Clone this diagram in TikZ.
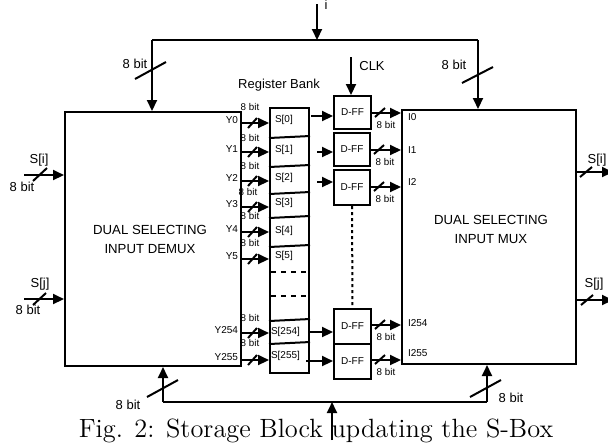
\documentclass[tikz,border=0pt]{standalone}
\usepackage{fontspec}
\newfontfamily\arial{Liberation Sans}
\usetikzlibrary{arrows.meta}
\begin{document}
\begin{tikzpicture}[x=0.5pt,y=-0.5pt,line width=1pt,
  arr/.style={-{Triangle[length=5.5pt,width=5pt]}},
  big/.style={font=\arial\fontsize{6.5}{7}\selectfont,inner sep=0pt},
  mid/.style={font=\arial\fontsize{6.6}{9.5}\selectfont,inner sep=0pt,align=center},
  sm/.style={font=\arial\fontsize{5}{6}\selectfont,inner sep=0pt},
  tiny/.style={font=\arial\fontsize{4.9}{5.5}\selectfont,inner sep=0pt},
  blk/.style={draw,inner sep=0pt,anchor=north west},
  dots/.style={dash pattern=on 1.5pt off 1.5pt},
  dsh/.style={dash pattern=on 2.5pt off 2.5pt}]
\useasboundingbox (0,0) rectangle (608,447);

% main blocks
\node[blk,minimum width=88pt,minimum height=127pt] (demux) at (64,111) {};
\node[mid] (demuxtxt) at (150,239) {DUAL SELECTING\\INPUT DEMUX};
\node[blk,minimum width=87pt,minimum height=127pt] (mux) at (401,109) {};
\node[mid] (muxtxt) at (491,229) {DUAL SELECTING\\INPUT MUX};

% register bank
\node[blk,minimum width=19.5pt,minimum height=132.5pt] (bank) at (269,107) {};
\node[big] (banklbl) at (279,85) {Register Bank};
\foreach \a/\b in {138/136,167/165,194/192,218/216,247/245,321/319,344/342}
  \draw (bank.west |- 0,\a) -- (bank.east |- 0,\b);
\foreach \a in {272,296}
  \draw[dsh] ([xshift=1pt]bank.west |- 0,\a) -- ([xshift=-1pt]bank.east |- 0,\a);
\foreach \n/\x/\y in {0/274/120,1/274/150,2/274/178,3/274/203,4/274/231,5/274/256,254/270/332,255/270/356}
  \node[sm,anchor=west] (s\n) at (\x,\y) {S[\n]};

% demux outputs Y
\foreach \n/\y/\ly/\lx in {0/123/107/250,1/152/138/250,2/181/166/250,3/207/192/248,4/232/216/250,5/259/243/250,254/333/318/250,255/360/343/250}{
  \coordinate (ya\n) at (demux.east |- 0,\y);
  \draw[arr] (ya\n) -- (ya\n -| bank.west);
  \draw ([shift={(6,5)}]ya\n) -- ++(9,-10);
  \node[sm,anchor=east] (yl\n) at ([shift={(-3,-3)}]ya\n) {Y\n};
  \node[tiny] (yb\n) at (\lx,\ly) {8 bit};
}

% D flip-flops
\node[blk,sm,minimum width=18.5pt,minimum height=16.5pt] (d0) at (333,95) {D-FF};
\node[blk,sm,minimum width=18pt,minimum height=16.5pt] (d1) at (333,132) {D-FF};
\node[blk,sm,minimum width=18pt,minimum height=17.5pt] (d2) at (333,169) {D-FF};
\node[blk,sm,minimum width=18.5pt,minimum height=17.5pt] (d254) at (333,308) {D-FF};
\node[blk,sm,minimum width=18.5pt,minimum height=17.5pt] (d255) at (333,343) {D-FF};
\draw[dots] (d2.south) -- (d254.north);

% bank -> D-FF
\foreach \n/\x/\y in {0/311/116,1/317/152,2/317/182,254/309/332,255/306/361}{
  \coordinate (o\n) at (\x,\y);
  \draw[arr] (o\n) -- (o\n -| d\n.west);
}

% D-FF -> mux
\foreach \n/\y/\ty in {0/113/117,1/150/150,2/187/182,254/325/323,255/360/353}{
  \coordinate (q\n) at (d\n.east |- 0,\y);
  \draw[arr] (q\n) -- (q\n -| mux.west);
  \draw ([shift={(3,4)}]q\n) -- ++(10,-9);
  \node[tiny] (qb\n) at ([shift={(14,12)}]q\n) {8 bit};
  \node[sm,anchor=west] (il\n) at (407,\ty) {I\n};
}

% CLK
\coordinate (clk) at (351,57);
\draw[arr] (clk) -- (clk |- d0.north);
\node[big] (clklbl) at (372,66) {CLK};

% top bus
\coordinate (itop) at (317,4);
\coordinate (tl) at (152,40);
\coordinate (tr) at (478,40);
\draw[arr] (itop) -- (itop |- tl);
\node[big] (ilbl) at (326,5) {i};
\draw (tl) -- (tr);
\draw[arr] (tl) -- (tl |- demux.north);
\draw[arr] (tr) -- (tr |- mux.north);
\draw (135,79) -- (166,62);
\node[big] (tb1) at (135,64) {8 bit};
\draw (462,83) -- (493,67);
\node[big] (tb2) at (454,65) {8 bit};

% left inputs
\coordinate (si) at (24,175);
\coordinate (sj) at (24,299);
\draw[arr] (si) -- (si -| demux.west);
\draw[arr] (sj) -- (sj -| demux.west);
\draw (33,181) -- (47,168);
\draw (33,305) -- (46,293);
\node[big] (sil) at (39,160) {S[i]};
\node[big] (sib) at (22,187) {8 bit};
\node[big] (sjl) at (40,284) {S[j]};
\node[big] (sjb) at (28,310) {8 bit};

% right outputs
\coordinate (mi) at (mux.east |- 0,172);
\coordinate (mj) at (mux.east |- 0,300);
\draw[arr] (mi) -- (613,172);
\draw[arr] (mj) -- (613,300);
\draw (580,177) -- (592,167);
\draw (581,305) -- (593,295);
\node[big] (mil) at (597,160) {S[i]};
\node[big] (mjl) at (594,284) {S[j]};

% bottom bus
\coordinate (bl) at (163,402);
\coordinate (br) at (487,402);
\coordinate (bin) at (332,440);
\draw (bl) -- (br);
\draw[arr] (bl) -- (bl |- demux.south);
\draw[arr] (br) -- (br |- mux.south);
\draw (147,397) -- (178,380);
\node[big] (bb1) at (128,405) {8 bit};
\draw (470,397) -- (501,380);
\node[big] (bb2) at (511,398) {8 bit};

% caption
\node[anchor=base,inner sep=0pt,font=\fontsize{13.2}{15}\selectfont] (cap) at (316,437) {Fig. 2: Storage Block updating the S-Box};
\draw[arr] (bin) -- (bin |- bl);
\end{tikzpicture}
\end{document}
